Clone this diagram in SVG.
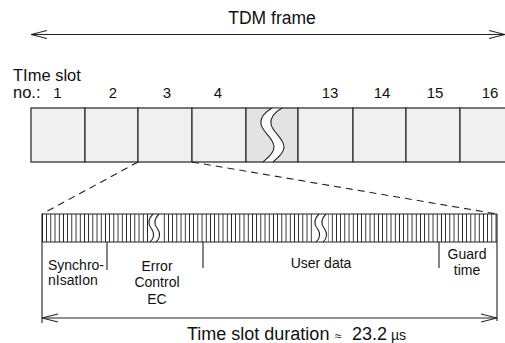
<svg xmlns="http://www.w3.org/2000/svg" width="505" height="343" viewBox="0 0 505 343">
<style>
text{font-family:"Liberation Sans",Arial,sans-serif;fill:#111}
.slot{fill:#f0f0f0;stroke:#333;stroke-width:1.3}
.brk{fill:#e3e3e3;stroke:#333;stroke-width:1.3}
.curve{fill:none;stroke:#222;stroke-width:1.1}
.ln{fill:none;stroke:#222;stroke-width:1.1}
.dash{fill:none;stroke:#222;stroke-width:1.1;stroke-dasharray:7 5}
.lbl{font-size:14px}
.num{font-size:15px;text-anchor:middle}
</style>
<defs>
<pattern id="st" x="42" y="214" width="4.2" height="28" patternUnits="userSpaceOnUse">
<line x1="0.5" y1="0" x2="0.5" y2="28" stroke="#111" stroke-width="1" shape-rendering="crispEdges"/>
</pattern>
<marker id="ah" viewBox="0 0 16 10" refX="16" refY="5" markerWidth="16" markerHeight="10" markerUnits="userSpaceOnUse" orient="auto-start-reverse">
<path d="M0,1 L16,5 L0,9" fill="none" stroke="#222" stroke-width="1.1"/>
</marker>
</defs>

<g id="title">
<text x="272" y="24" font-size="17.5" text-anchor="middle">TDM frame</text>
</g>

<g id="slot-labels">
<text x="13" y="81" font-size="16.5">TIme slot</text>
<text x="13" y="98" font-size="16.5">no.:</text>
<text class="num" x="57.5" y="97.5">1</text>
<text class="num" x="113" y="97.5">2</text>
<text class="num" x="167" y="97.5">3</text>
<text class="num" x="218" y="97.5">4</text>
<text class="num" x="330" y="97.5">13</text>
<text class="num" x="382" y="97.5">14</text>
<text class="num" x="435" y="97.5">15</text>
<text class="num" x="490" y="97.5">16</text>
</g>

<g id="frame">
<rect class="slot" x="31" y="108" width="54" height="54"/>
<rect class="slot" x="85" y="108" width="53" height="54"/>
<rect class="slot" x="138" y="108" width="54" height="54"/>
<rect class="slot" x="192" y="108" width="54" height="54"/>
<rect class="brk" x="246" y="108" width="52" height="54"/>
<rect class="slot" x="298" y="108" width="55" height="54"/>
<rect class="slot" x="353" y="108" width="53" height="54"/>
<rect class="slot" x="406" y="108" width="54" height="54"/>
<rect class="slot" x="460" y="108" width="60" height="54"/>
<path d="M272,108.7 C265,112 260,117 261,124 C262,132 274,138 274,147 C274,154 266,159 263,161.3 L273,161.3 C276,159 284,154 284,147 C284,138 272,132 271,124 C270,117 275,112 282,108.7 Z" fill="#fff"/>
<path class="curve" d="M272,108 C265,112 260,117 261,124 C262,132 274,138 274,147 C274,154 266,159 263,162"/>
<path class="curve" d="M282,108 C275,112 270,117 271,124 C272,132 284,138 284,147 C284,154 276,159 273,162"/>
</g>

<g id="slot-bar">
<rect x="42" y="214" width="455" height="28" fill="#fff"/>
<rect x="42" y="214" width="106" height="28" fill="url(#st)"/>
<rect x="162" y="214" width="152" height="28" fill="url(#st)"/>
<rect x="328" y="214" width="169" height="28" fill="url(#st)"/>
<path class="curve" d="M153,214 C148,219 148,224 151,228 C155,233 154,239 150,242"/>
<path class="curve" d="M159,214 C154,219 154,224 157,228 C161,233 160,239 156,242"/>
<path class="curve" d="M319,214 C314,219 314,224 317,228 C321,233 320,239 316,242"/>
<path class="curve" d="M326,214 C321,219 321,224 324,228 C328,233 327,239 323,242"/>
<path class="ln" d="M42,214 H497 M42,242 H497 M42,214 V323 M497,214 V321"/>
<path class="ln" d="M107,242 V270 M203,242 V268 M439,242 V268"/>
</g>

<g id="field-labels">
<text class="lbl" x="48" y="270">Synchro-</text>
<text class="lbl" x="48" y="285">nIsatIon</text>
<text class="lbl" x="157" y="271" text-anchor="middle">Error</text>
<text class="lbl" x="157" y="287" text-anchor="middle">Control</text>
<text class="lbl" x="157" y="304" text-anchor="middle">EC</text>
<text class="lbl" x="321" y="268" text-anchor="middle">User data</text>
<text class="lbl" x="467" y="259" text-anchor="middle">Guard</text>
<text class="lbl" x="467" y="275" text-anchor="middle">time</text>
</g>

<g id="duration">
<text x="187" y="340" font-size="18">Time slot duration <tspan x="335" font-size="12">≈</tspan><tspan x="352">23.2</tspan><tspan x="391" font-size="14">µs</tspan></text>
</g>

<g id="connectors">
<path class="ln" d="M31,34.5 H505" marker-start="url(#ah)" marker-end="url(#ah)"/>
<path class="ln" d="M42,318 H497" marker-start="url(#ah)" marker-end="url(#ah)"/>
<path class="dash" d="M138,162 L42,214"/>
<path class="dash" d="M192,162 L497,214"/>
</g>
</svg>
